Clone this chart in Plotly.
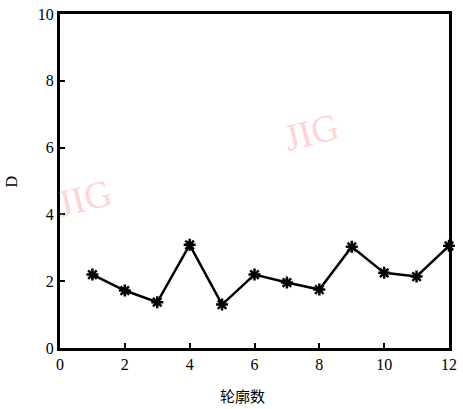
import plotly.graph_objects as go

contours = [1, 2, 3, 4, 5, 6, 7, 8, 9, 10, 11, 12]
D_values = [2.2, 1.72, 1.37, 3.09, 1.3, 2.2, 1.96, 1.75, 3.03, 2.25, 2.14, 3.06]
x_ticks = [0, 2, 4, 6, 8, 10, 12]
y_ticks = [0, 2, 4, 6, 8, 10]

fig = go.Figure()
fig.add_trace(go.Scatter(
    x=contours, y=D_values, mode="lines+markers",
    line=dict(color="black", width=2.5),
    marker=dict(symbol="asterisk", size=10, color="black",
                line=dict(color="black", width=2.5)),
    showlegend=False, cliponaxis=False,
))

axis_common = dict(
    showline=True, linecolor="black", linewidth=3, mirror=True,
    ticks="inside", ticklen=5, tickwidth=2, tickcolor="black",
    showgrid=False, zeroline=False,
    tickfont=dict(family="Liberation Serif", size=16, color="black"),
)

fig.update_layout(
    width=463, height=409,
    margin=dict(l=60, r=6, t=11, b=61),
    paper_bgcolor="white", plot_bgcolor="white",
    xaxis=dict(range=[0, 12], tickvals=x_ticks, **axis_common),
    yaxis=dict(range=[0, 10], tickvals=y_ticks, **axis_common),
    annotations=[
        dict(text="轮廓数", x=0.47, xref="paper", y=-0.142, yref="paper",
             xanchor="center", yanchor="middle", showarrow=False,
             font=dict(family="Noto Sans CJK SC", size=15, color="black")),
        dict(text="D", x=-0.125, xref="paper", y=0.5, yref="paper",
             xanchor="center", yanchor="middle", showarrow=False, textangle=-90,
             font=dict(family="Liberation Serif", size=16, color="black")),
        dict(text="JIG", x=0.063, xref="paper", y=0.448, yref="paper",
             xanchor="center", yanchor="middle",
             showarrow=False, textangle=-14,
             font=dict(family="Liberation Serif", size=38, color="rgba(255,170,170,0.5)")),
        dict(text="JIG", x=0.646, xref="paper", y=0.647, yref="paper",
             xanchor="center", yanchor="middle",
             showarrow=False, textangle=-14,
             font=dict(family="Liberation Serif", size=38, color="rgba(255,170,170,0.5)")),
    ],
)

fig.write_html("out.html", config={"displayModeBar": False},
               post_script="document.body.style.margin='0';document.body.style.padding='0';")
